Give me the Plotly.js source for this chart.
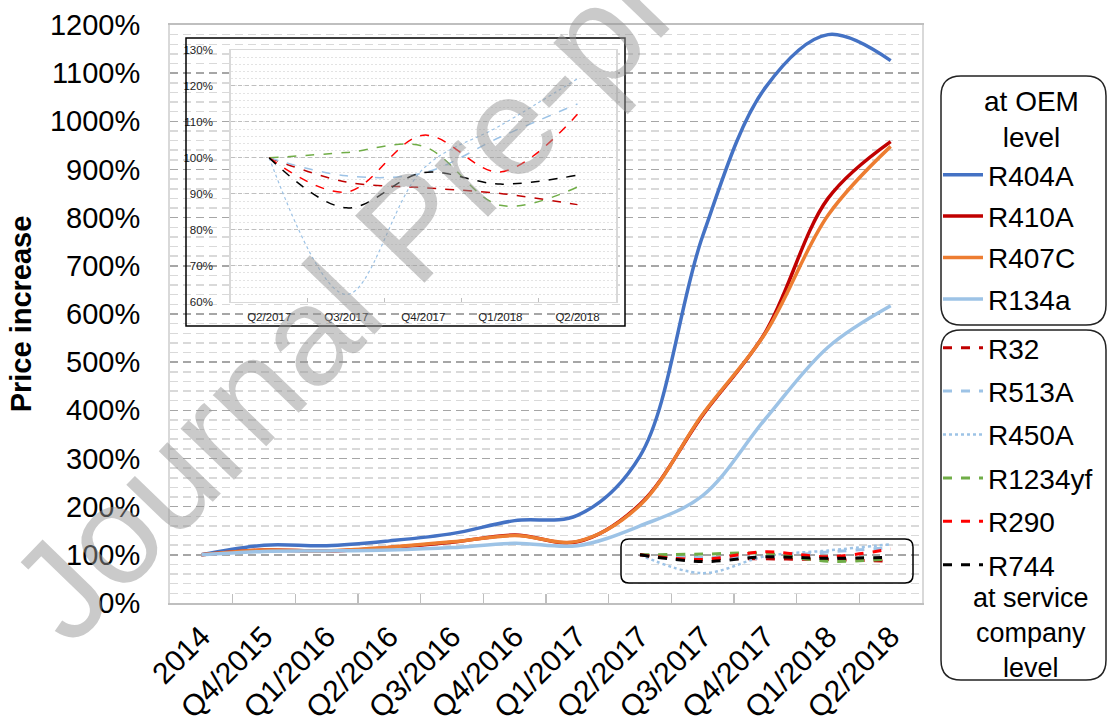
<!DOCTYPE html>
<html><head><meta charset="utf-8">
<script src="https://cdn.plot.ly/plotly-3.0.1.min.js"></script>
<style>html,body{margin:0;padding:0;background:#fff}#chart{width:1113px;height:726px}</style>
</head><body><div id="chart"></div>
<script>
// ---- data ----
const periods = ['2014','Q4/2015','Q1/2016','Q2/2016','Q3/2016','Q4/2016','Q1/2017','Q2/2017','Q3/2017','Q4/2017','Q1/2018','Q2/2018'];
const servicePeriods = ['Q2/2017','Q3/2017','Q4/2017','Q1/2018','Q2/2018'];

const r404a = [100,120,119,129,144,171,182,305,762,1070,1180,1126];
const r410a = [100,110,108,115,126,141,127,205,390,562,840,958];
const r407c = [100,110,108,116,127,140,128,203,392,560,805,948];
const r134a = [100,107,108,110,115,124,119,160,223,382,531,617];

const r32     = [100,93.3,91.7,90.1,87];
const r513a   = [100,95,95.8,105.8,115];
const r450a   = [100,62,97,109,122];
const r1234yf = [100,101.5,103.2,86.8,91.9];
const r290    = [100,90.5,106.3,96.1,112.1];
const r744    = [100,86.1,95.9,92.7,95.2];

const oemNames = ['R404A','R410A','R407C','R134a'];
const serviceNames = ['R32','R513A','R450A','R1234yf','R290','R744'];
const yTicks = [0,100,200,300,400,500,600,700,800,900,1000,1100,1200];
const yTickLabels = ['0%','100%','200%','300%','400%','500%','600%','700%','800%','900%','1000%','1100%','1200%'];
const insetTicks = [60,70,80,90,100,110,120,130];
const insetTickLabels = ['60%','70%','80%','90%','100%','110%','120%','130%'];

// ---- styles ----
const FONT = 'Liberation Sans, Arial, sans-serif';
const oemColors = ['#4472c4','#c00000','#ed7d31','#9dc3e6'];
const serviceColors = ['#c00000','#9dc3e6','#9dc3e6','#70ad47','#ff0000','#000000'];
const serviceDash = ['dash','dash','dot','dash','dash','dash'];
const oemData = [r404a,r410a,r407c,r134a];
const serviceData = [r32,r513a,r450a,r1234yf,r290,r744];

// plot area in pixels
const Lp=170, Rp=922, Tp=25, Bp=603;
const px = x => (x-Lp)/(Rp-Lp);
const py = y => (Bp-y)/(Bp-Tp);

const traces = [];
oemData.forEach((d,i)=>{
  traces.push({type:'scatter',mode:'lines',x:periods,y:d,name:oemNames[i],
    line:{color:oemColors[i],width:3.5,shape:'spline'},
    legend:'legend',legendgroup:'o'+i,xaxis:'x',yaxis:'y'});
});
serviceData.forEach((d,i)=>{
  traces.push({type:'scatter',mode:'lines',x:servicePeriods,y:d,name:serviceNames[i],
    line:{color:serviceColors[i],width:serviceDash[i]==='dot'?2.5:3,dash:serviceDash[i],shape:'spline'},
    legend:'legend2',legendgroup:'s'+i,xaxis:'x',yaxis:'y'});
});
serviceData.forEach((d,i)=>{
  traces.push({type:'scatter',mode:'lines',x:servicePeriods,y:d,name:serviceNames[i],
    line:{color:serviceColors[i],width:serviceDash[i]==='dot'?1.2:1.5,dash:serviceDash[i],shape:'spline'},
    showlegend:false,xaxis:'x3',yaxis:'y3'});
});

function roundRect(x0,y0,x1,y1,r){
  const X=v=>px(v).toFixed(5), Y=v=>py(v).toFixed(5);
  return 'M'+X(x0+r)+','+Y(y0)+' L'+X(x1-r)+','+Y(y0)+' Q'+X(x1)+','+Y(y0)+' '+X(x1)+','+Y(y0+r)+
    ' L'+X(x1)+','+Y(y1-r)+' Q'+X(x1)+','+Y(y1)+' '+X(x1-r)+','+Y(y1)+
    ' L'+X(x0+r)+','+Y(y1)+' Q'+X(x0)+','+Y(y1)+' '+X(x0)+','+Y(y1-r)+
    ' L'+X(x0)+','+Y(y0+r)+' Q'+X(x0)+','+Y(y0)+' '+X(x0+r)+','+Y(y0)+' Z';
}

const dashGrid = '8px,5px';
const layout = {
  width:1113,height:726,
  margin:{l:Lp,r:1113-Rp,t:Tp,b:726-Bp,pad:0},
  paper_bgcolor:'#ffffff',plot_bgcolor:'#ffffff',
  font:{family:FONT,color:'#000'},
  showlegend:true,hovermode:false,
  xaxis:{type:'category',categoryorder:'array',categoryarray:periods,range:[-0.5,11.5],
    tickson:'boundaries',ticks:'inside',ticklen:9,tickcolor:'#bfbfbf',tickwidth:1.5,
    showline:true,linecolor:'#bfbfbf',linewidth:2,mirror:true,showgrid:false,
    tickangle:-45,tickfont:{size:30,family:FONT,color:'#000'},ticklabelstandoff:2,automargin:false},
  yaxis:{range:[0,1200],tickmode:'array',tickvals:yTicks,ticktext:yTickLabels,ticks:'',
    tickfont:{size:29,family:FONT,color:'#000'},ticklabelstandoff:22,
    showline:true,linecolor:'#d9d9d9',linewidth:2,mirror:true,
    showgrid:true,gridcolor:'#a6a6a6',gridwidth:1.5,griddash:dashGrid,zeroline:false,
    minor:{dtick:20,showgrid:true,gridcolor:'#d9d9d9',gridwidth:1.5,griddash:dashGrid,ticks:''},
    title:{text:'<b>Price increase</b>',font:{size:29,family:FONT,color:'#000'},standoff:10},automargin:false},
  // white panel behind the inset
  xaxis2:{domain:[px(186),px(625)],anchor:'y2',visible:false,range:[0,1],fixedrange:true},
  yaxis2:{domain:[py(326),py(38)],anchor:'x2',visible:false,range:[0,1],fixedrange:true},
  // inset
  xaxis3:{domain:[px(230.7),px(616)],anchor:'y3',type:'category',categoryorder:'array',categoryarray:servicePeriods,range:[-0.5,4.5],
    tickson:'boundaries',ticks:'inside',ticklen:4,tickcolor:'#bfbfbf',
    showline:true,linecolor:'#d9d9d9',linewidth:1.5,mirror:true,showgrid:false,
    tickangle:0,tickfont:{size:11.5,family:FONT,color:'#222'},ticklabelstandoff:4},
  yaxis3:{domain:[py(301.7),py(50)],anchor:'x3',range:[60,130],tickmode:'array',tickvals:insetTicks,ticktext:insetTickLabels,ticks:'',
    tickfont:{size:11.5,family:FONT,color:'#222'},ticklabelstandoff:14,
    showline:true,linecolor:'#d9d9d9',linewidth:1.5,mirror:true,zeroline:false,
    showgrid:true,gridcolor:'#bfbfbf',gridwidth:1,griddash:'4px,3px',
    minor:{dtick:2,showgrid:true,gridcolor:'#e3e3e3',gridwidth:1,griddash:'2px,2px',ticks:''}},
  legend:{x:px(938),xanchor:'left',y:py(150),yanchor:'top',bgcolor:'rgba(0,0,0,0)',borderwidth:0,
    font:{size:28,family:FONT,color:'#000'},traceorder:'grouped',tracegroupgap:2,itemwidth:40,itemclick:false,itemdoubleclick:false},
  legend2:{x:px(938),xanchor:'left',y:py(323),yanchor:'top',bgcolor:'rgba(0,0,0,0)',borderwidth:0,
    font:{size:28,family:FONT,color:'#000'},traceorder:'grouped',tracegroupgap:4,itemwidth:40,itemclick:false,itemdoubleclick:false},
  shapes:[
    {type:'rect',xref:'paper',yref:'paper',x0:px(186),x1:px(625),y0:py(326),y1:py(38),
      line:{color:'#000',width:1.5},fillcolor:'rgba(0,0,0,0)',layer:'above'},
    {type:'path',xref:'paper',yref:'paper',path:roundRect(621,539,913,583,8),
      line:{color:'#000',width:1.5},fillcolor:'rgba(0,0,0,0)',layer:'above'},
    {type:'path',xref:'paper',yref:'paper',path:roundRect(941,76,1106,325,20),
      line:{color:'#222',width:1.5},fillcolor:'rgba(0,0,0,0)',layer:'above'},
    {type:'path',xref:'paper',yref:'paper',path:roundRect(941,330,1106,680,20),
      line:{color:'#222',width:1.5},fillcolor:'rgba(0,0,0,0)',layer:'above'}
  ],
  annotations:[
    {xref:'paper',yref:'paper',x:px(1031),y:py(119),text:'at OEM<br>level',showarrow:false,
      font:{size:28,family:FONT,color:'#000'},xanchor:'center',yanchor:'middle',align:'center'},
    {xref:'paper',yref:'paper',x:px(1031),y:py(633),text:'at service<br>company<br>level',showarrow:false,
      font:{size:27,family:FONT,color:'#000'},xanchor:'center',yanchor:'middle',align:'center'},
    {xref:'paper',yref:'paper',x:px(411),y:py(226),text:'Journal Pre-proof',showarrow:false,textangle:-46,
      font:{size:140,family:FONT,color:'rgba(150,150,150,0.5)'},xanchor:'center',yanchor:'middle'}
  ]
};

Plotly.newPlot('chart',traces,layout,{displayModeBar:false,staticPlot:true});
</script>
</body></html>
